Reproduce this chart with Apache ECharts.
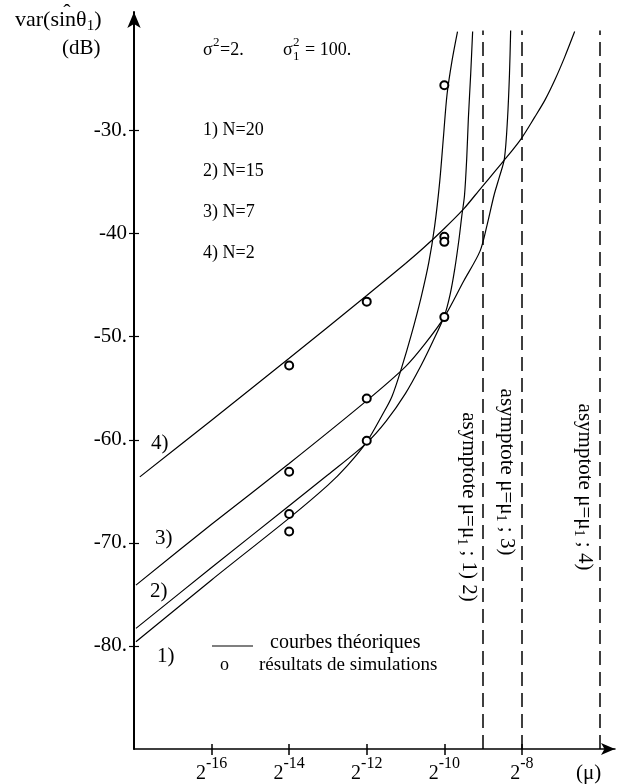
<!doctype html>
<html>
<head>
<meta charset="utf-8">
<title></title>
<script src="https://cdn.jsdelivr.net/npm/echarts@6/dist/echarts.min.js"></script>
<style>
html, body { margin: 0; padding: 0; background: #fff; }
#container { width: 622px; height: 784px; }
</style>
</head>
<body>
<div id="container"></div>
<script>
var FONT = '"Liberation Serif", "Times New Roman", serif';

// x = log2(mu), y = var in dB
var curve1 = [[-17.95, -79.6], [-16, -73.6], [-14, -67.6], [-13, -64.4], [-12.5, -62.5], [-12, -60.2],
  [-11.6, -57.6], [-11.35, -55.8], [-11.1, -53.0], [-10.85, -49.8], [-10.6, -46.2], [-10.4, -42.8],
  [-10.25, -39.3], [-10.12, -35.0], [-10.02, -30.5], [-9.93, -26.5], [-9.8, -23.2], [-9.66, -20.4]];
var curve2 = [[-17.95, -78.3], [-16, -72.4], [-14, -66.4], [-13, -63.4], [-12, -60.3], [-11.5, -58.2],
  [-11.0, -55.5], [-10.6, -52.8], [-10.3, -50.5], [-10.0, -48.0], [-9.85, -45.9], [-9.73, -43.4],
  [-9.62, -40.5], [-9.55, -38.3], [-9.48, -36.3], [-9.42, -32.5], [-9.38, -28.8], [-9.32, -24.5], [-9.27, -20.4]];
var curve3 = [[-17.95, -74.1], [-16, -68.2], [-14, -62.3], [-12, -56.2], [-11, -52.9], [-10.5, -50.7],
  [-10, -48.1], [-9.5, -44.6], [-9.08, -41.7], [-8.9, -39.2], [-8.72, -36.3], [-8.58, -34.5],
  [-8.45, -32.7], [-8.37, -28.8], [-8.32, -24.5], [-8.29, -20.3]];
var curve4 = [[-17.85, -63.6], [-16, -58.1], [-14, -52.1], [-12, -46.0], [-11, -42.9], [-10.54, -41.4],
  [-10, -39.5], [-9.5, -37.6], [-9.06, -35.6], [-8.46, -32.9], [-8.02, -30.8], [-7.67, -28.7],
  [-7.4, -27.0], [-7.14, -25.0], [-6.9, -22.9], [-6.64, -20.4]];

// simulation results (circles) at mu = 2^-14, 2^-12, 2^-10
var sim14 = [-52.8, -63.1, -67.2, -68.9];
var sim12 = [-46.6, -56.0, -60.1];
var sim10 = [-25.6, -40.3, -40.8, -48.1];

var xTicks = [-16, -14, -12, -10, -8];
var yTicks = [-80, -70, -60, -50, -40, -30];
var asymptotes = [-9, -8, -6];
var asymNames = ['1) 2)', '3)', '4)'];
var asymMid = [507, 472, 487];

var simData = [];
sim14.forEach(function(v) { simData.push([-14, v]); });
sim12.forEach(function(v) { simData.push([-12, v]); });
sim10.forEach(function(v) { simData.push([-10, v]); });

function curveSeries(d) {
  return {
    type: 'line', data: d, showSymbol: false, smooth: 0.3,
    lineStyle: { color: '#000', width: 1.2 }, silent: true, z: 3
  };
}

var chart = echarts.init(document.getElementById('container'));

var option = {
  animation: false,
  backgroundColor: '#fff',
  grid: { left: 134, right: 7, top: 12, bottom: 34 },
  xAxis: [{
    type: 'value', min: -18, max: -5.6,
    axisLine: { onZero: false, symbol: ['none', 'arrow'], symbolSize: [9, 14], lineStyle: { color: '#000', width: 1.5 } },
    axisTick: { customValues: xTicks, length: 6, lineStyle: { color: '#000', width: 1.5 } },
    axisLabel: {
      customValues: xTicks, margin: 7,
      formatter: function(v) { return '{b|2}{s|' + v + '}'; },
      rich: {
        b: { fontFamily: FONT, fontSize: 20, color: '#000', lineHeight: 28, verticalAlign: 'bottom' },
        s: { fontFamily: FONT, fontSize: 16, color: '#000', verticalAlign: 'top' }
      }
    },
    splitLine: { show: false }
  }, {
    type: 'value', min: -18, max: -5.6, position: 'bottom',
    axisLine: { show: false },
    axisTick: { customValues: xTicks, inside: true, length: 5, lineStyle: { color: '#000', width: 1.5 } },
    axisLabel: { show: false },
    splitLine: { show: false }
  }],
  yAxis: [{
    type: 'value', min: -90, max: -18.5,
    axisLine: { onZero: false, symbol: ['none', 'arrow'], symbolSize: [10, 16], lineStyle: { color: '#000', width: 2 } },
    axisTick: { customValues: yTicks, length: 5, lineStyle: { color: '#000', width: 1.2 } },
    axisLabel: {
      customValues: yTicks, margin: 7, fontFamily: FONT, fontSize: 21, color: '#000',
      formatter: function(v) { return v === -40 ? '-40' : v + '.'; }
    },
    splitLine: { show: false }
  }, {
    type: 'value', min: -90, max: -18.5, position: 'left',
    axisLine: { show: false },
    axisTick: { customValues: yTicks, inside: true, length: 5, lineStyle: { color: '#000', width: 1.2 } },
    axisLabel: { show: false },
    splitLine: { show: false }
  }],
  series: [
    curveSeries(curve1), curveSeries(curve2), curveSeries(curve3), curveSeries(curve4),
    {
      type: 'scatter', data: simData, symbol: 'emptyCircle', symbolSize: 8,
      itemStyle: { color: '#000', borderColor: '#000', borderWidth: 1.5, opacity: 1 },
      silent: true, z: 4,
      markLine: {
        silent: true, symbol: ['none', 'none'], label: { show: false },
        lineStyle: { color: '#000', width: 1.5, type: [14, 7] },
        data: asymptotes.map(function(a) { return [{ coord: [a, -90] }, { coord: [a, -20.3] }]; })
      }
    }
  ]
};
chart.setOption(option);

function txt(x, y, text, size, extra) {
  var s = { text: text, x: 0, y: 0, font: size + 'px ' + FONT, fill: '#000', textAlign: 'left', textVerticalAlign: 'middle' };
  if (extra) for (var k in extra) s[k] = extra[k];
  return { type: 'text', x: x, y: y, style: s, silent: true };
}

function richTxt(x, y, text, size, subSize) {
  return {
    type: 'text', x: x, y: y, silent: true,
    style: {
      text: text, textAlign: 'left', textVerticalAlign: 'middle',
      rich: {
        n: { fontFamily: FONT, fontSize: size, color: '#000' },
        sub: { fontFamily: FONT, fontSize: subSize, color: '#000', padding: [Math.round(size * 0.55), 0, 0, 0] }
      }
    }
  };
}

var g = [
  // y axis name
  richTxt(15, 20, '{n|var(sinθ}{sub|1}{n|)}', 22, 15),
  txt(67, 13, 'ˆ', 22, { textAlign: 'center' }),
  txt(62, 48, '(dB)', 21),
  // parameters
  txt(203, 50, 'σ', 18), txt(213, 43, '2', 13), txt(220, 50, '=2.', 18),
  txt(283, 50, 'σ', 18), txt(293, 43, '2', 13), txt(293, 57, '1', 13), txt(305, 50, '= 100.', 18),
  txt(203, 130, '1) N=20', 18),
  txt(203, 171, '2) N=15', 18),
  txt(203, 212, '3) N=7', 18),
  txt(203, 253, '4) N=2', 18),
  // curve numbers
  txt(151, 443, '4)', 21),
  txt(155, 538, '3)', 21),
  txt(150, 591, '2)', 21),
  txt(157, 656, '1)', 21),
  // legend
  { type: 'line', shape: { x1: 212, y1: 646, x2: 253, y2: 646 }, style: { stroke: '#000', lineWidth: 1.2 }, silent: true },
  txt(270, 643, 'courbes théoriques', 20),
  txt(220, 665, 'o', 18),
  txt(259, 665, 'résultats de simulations', 19),
  // x axis unit
  txt(576, 773, '(μ)', 21)
];

asymptotes.forEach(function(a, i) {
  var px = chart.convertToPixel({ xAxisIndex: 0 }, a);
  var r = richTxt(px - 15, asymMid[i], '{n|asymptote μ=μ}{sub|1}{n| ; ' + asymNames[i] + '}', 21, 14);
  r.rotation = -Math.PI / 2;
  r.style.textAlign = 'center';
  g.push(r);
});

chart.setOption({ graphic: g });
</script>
</body>
</html>
